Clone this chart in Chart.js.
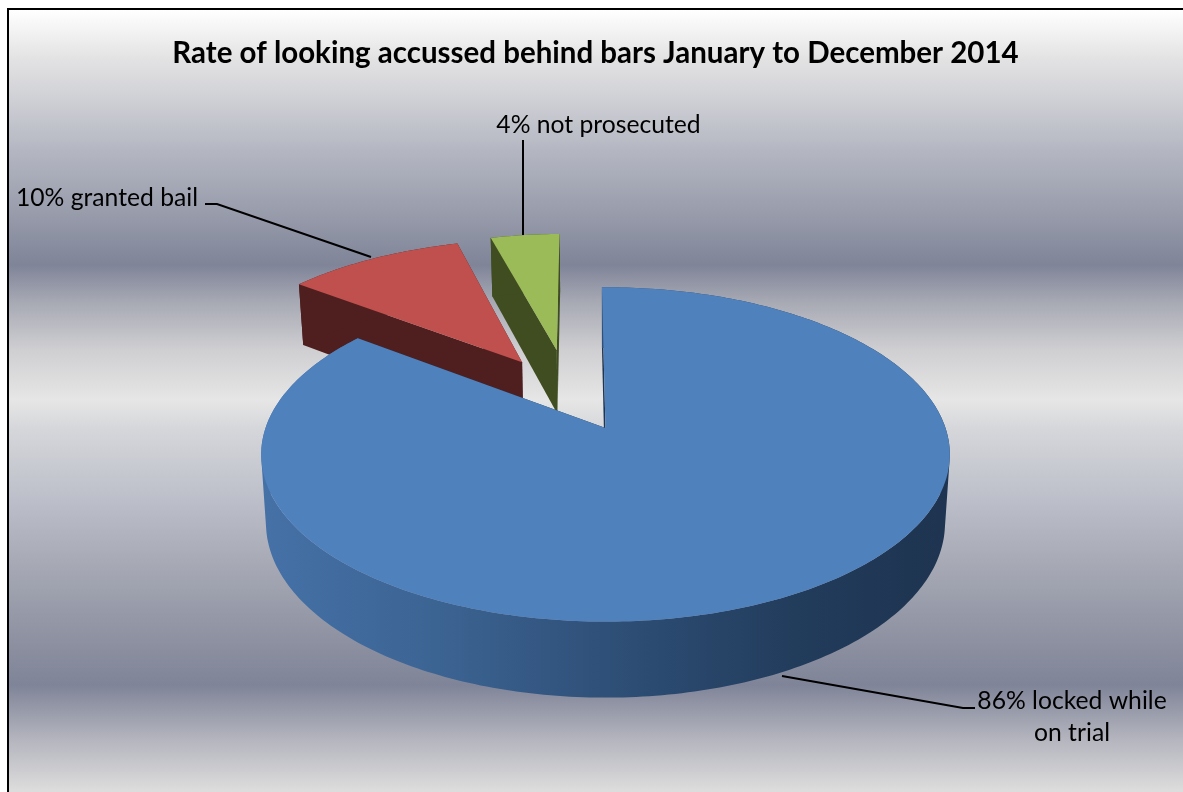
<!DOCTYPE html>
<html>
<head>
<meta charset="utf-8">
<title>Rate of looking accussed behind bars</title>
<script src="https://cdn.jsdelivr.net/npm/chart.js@4"></script>
<style>
    html, body { margin: 0; padding: 0; background: #ffffff; overflow: hidden; }
    canvas { display: block; }
</style>
</head>
<body>
<canvas id="graficoPizza" width="1183" height="792"></canvas>
<script>
// DATA
const tituloGrafico = "Rate of looking accussed behind bars January to December 2014";
const categorias = ["86% locked while on trial", "10% granted bail", "4% not prosecuted"];
const valores = [85.5, 10.3, 4.2];

// CORES
const coresTopo = ["#4f81bd", "#c0504d", "#9bbb59"];
const coresParede = ["#1f3550", "#4f1f1f", "#3f4d20"];

// PROJEÇÃO DA PIZZA 3D (perspectiva)
const proj = { x0: 605.5, y0: 428, a: 340, b: 163, p: 0.158, prof: 67.4, recuo: 0.014 };

// Deslocamento de cada fatia, em raios da pizza
const fatias = [
    { dx: 0, dy: 0, r: 1 },
    { dx: -0.262, dy: -0.43, r: 0.985 },
    { dx: -0.155, dy: -0.516, r: 0.95 },
];

// RÓTULOS E LINHAS DE CHAMADA
const rotulos = [
    { linhas: ["86% locked while", "on trial"], cx: 1072, y: 709, guia: [[782, 676], [963, 708], [975, 708]] },
    { linhas: ["10% granted bail"], cx: 107, y: 206, guia: [[205, 204], [217, 204], [371, 257]] },
    { linhas: ["4% not prosecuted"], cx: 598.5, y: 133, guia: [[523, 140], [523, 235]] },
];

// Converte ponto da pizza (u, v, z) para pixels
function projetar(u, v, z) {
    const w = 1 - proj.p * v;
    return [
        proj.x0 + proj.a * u / w * (1 - proj.recuo * z),
        proj.y0 + proj.b * v / w + proj.prof * z / Math.pow(w, 0.7),
    ];
}

// Adiciona um polígono ao caminho atual
function poligono(ctx, pontos) {
    pontos.forEach((p, i) => i ? ctx.lineTo(p[0], p[1]) : ctx.moveTo(p[0], p[1]));
    ctx.closePath();
}

// Área com sinal, usada para manter a mesma orientação nos quadriláteros
function areaSinal(pontos) {
    return pontos.reduce((soma, p, i) => {
        const q = pontos[(i + 1) % pontos.length];
        return soma + p[0] * q[1] - q[0] * p[1];
    }, 0);
}

// FUNDO E MOLDURA
const fundoPlugin = {
    id: "fundo",
    beforeDraw(chart) {
        const ctx = chart.ctx;
        const g = ctx.createLinearGradient(0, 0, 0, 792);
        const stops = [
            [10, "#ffffff"], [60, "#e2e2e3"], [100, "#cfd0d5"], [150, "#b4b7c2"], [200, "#9ea2b0"],
            [265, "#7f8498"], [300, "#a5a7b2"], [350, "#cfcfd2"], [400, "#e6e6e6"], [430, "#d5d6da"],
            [500, "#bcbfc9"], [560, "#a8abb6"], [640, "#8d91a1"], [685, "#7f8498"], [740, "#b4b5be"],
            [790, "#dcdcdc"],
        ];
        stops.forEach(([y, cor]) => g.addColorStop(y / 792, cor));
        ctx.save();
        ctx.fillStyle = g;
        ctx.fillRect(8, 9, 1175, 783);
        ctx.strokeStyle = "#000000";
        ctx.lineWidth = 2;
        ctx.strokeRect(8, 9, 1200, 820);
        ctx.restore();
    },
};

// PIZZA 3D: usa os ângulos dos arcos calculados pelo Chart.js
const pizza3dPlugin = {
    id: "pizza3d",
    beforeDatasetDraw(chart) {
        const ctx = chart.ctx;
        const arcos = chart.getDatasetMeta(0).data;

        ctx.save();
        // Ordem: do fundo para a frente
        [2, 1, 0].forEach((i) => {
            const arco = arcos[i];
            const f = fatias[i];
            const passos = Math.ceil((arco.endAngle - arco.startAngle) * 60);
            const borda = [];
            for (let k = 0; k <= passos; k++) {
                const ang = arco.startAngle + (arco.endAngle - arco.startAngle) * k / passos;
                borda.push([f.dx + f.r * Math.cos(ang), f.dy + f.r * Math.sin(ang)]);
            }
            const pt = (q, z) => projetar(q[0], q[1], z);
            const centro = [f.dx, f.dy];

            // Paredes radiais
            ctx.fillStyle = coresParede[i];
            [borda[0], borda[borda.length - 1]].forEach((q) => {
                ctx.beginPath();
                poligono(ctx, [pt(centro, 0), pt(q, 0), pt(q, 1), pt(centro, 1)]);
                ctx.fill();
            });

            // Lateral externa: todos os quadriláteros no mesmo caminho
            let lateral = coresParede[i];
            if (i === 0) {
                lateral = ctx.createLinearGradient(265, 0, 945, 0);
                lateral.addColorStop(0, "#4571a7");
                lateral.addColorStop(0.25, "#3c6493");
                lateral.addColorStop(0.5, "#2f5078");
                lateral.addColorStop(0.78, "#223c5c");
                lateral.addColorStop(1, "#1e3450");
            }
            ctx.fillStyle = lateral;
            ctx.beginPath();
            for (let k = 0; k < passos; k++) {
                const quad = [pt(borda[k], 0), pt(borda[k + 1], 0), pt(borda[k + 1], 1), pt(borda[k], 1)];
                poligono(ctx, areaSinal(quad) < 0 ? quad.reverse() : quad);
            }
            ctx.fill();

            // Topo
            ctx.fillStyle = coresTopo[i];
            ctx.beginPath();
            poligono(ctx, [pt(centro, 0)].concat(borda.map((q) => pt(q, 0))));
            ctx.fill();
        });
        ctx.restore();

        // Não desenha o arco plano padrão
        return false;
    },
    afterDatasetsDraw(chart) {
        const ctx = chart.ctx;
        ctx.save();
        ctx.strokeStyle = "#000000";
        ctx.lineWidth = 2;
        ctx.fillStyle = "#000000";
        ctx.font = '24.7px "Lato"';
        ctx.textAlign = "center";
        rotulos.forEach((r) => {
            ctx.beginPath();
            r.guia.forEach((p, i) => i ? ctx.lineTo(p[0], p[1]) : ctx.moveTo(p[0], p[1]));
            ctx.stroke();
            r.linhas.forEach((linha, i) => ctx.fillText(linha, r.cx, r.y + i * 32));
        });
        ctx.restore();
    },
};

// CRIA GRÁFICO
new Chart(document.getElementById("graficoPizza"), {
    type: "pie",
    data: {
        labels: categorias,
        datasets: [{
            data: valores,
            backgroundColor: coresTopo,
            borderWidth: 0,
        }],
    },
    options: {
        responsive: false,
        animation: false,
        rotation: -0.7,
        layout: { padding: { left: 8 } },
        plugins: {
            legend: { display: false },
            tooltip: { enabled: false },
            title: {
                display: true,
                text: tituloGrafico,
                color: "#000000",
                font: { family: '"Lato"', size: 29.5, weight: "bold" },
                padding: { top: 36, bottom: 10 },
            },
        },
    },
    plugins: [fundoPlugin, pizza3dPlugin],
});
</script>
</body>
</html>
